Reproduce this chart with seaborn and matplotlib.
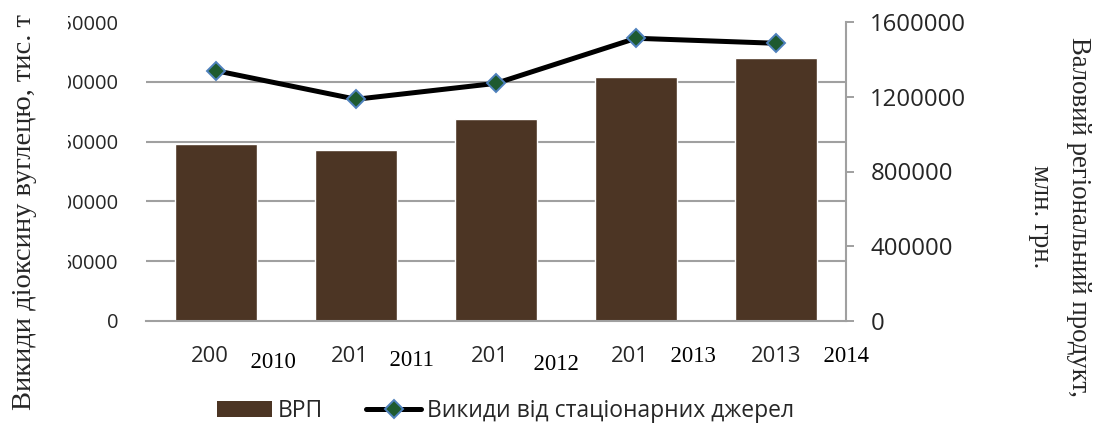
import numpy as np
import pandas as pd
import matplotlib
matplotlib.use("Agg")
import matplotlib.pyplot as plt
import matplotlib.patches as mpatches
from matplotlib.lines import Line2D
from matplotlib.ticker import MultipleLocator
from matplotlib.transforms import Bbox, TransformedBbox
import seaborn as sns

# ---- data ----
categories = ["2009", "2010", "2011", "2012", "2013"]          # original category labels (partly hidden)
overlay_years = ["2010", "2011", "2012", "2013", "2014"]       # overlaid year text boxes
grp_values = [947000, 915000, 1081000, 1306000, 1407000]      # ВРП, млн. грн. (right axis)
emission_values = [209300, 185400, 198700, 236400, 232200]    # Викиди, тис. т (left axis)
left_ticks = [0, 50000, 100000, 150000, 200000, 250000]
right_ticks = [0, 400000, 800000, 1200000, 1600000]

df = pd.DataFrame({"year": categories, "grp": grp_values, "emis": emission_values})

sns.set_style("white")
plt.rcParams["font.family"] = ["Open Sans", "DejaVu Sans"]

BROWN = "#4c3524"
GRID = "#a0a0a0"
GREEN = "#1e5a30"
BLUE = "#4f81bd"
SERIF = ["Liberation Serif", "DejaVu Serif"]

W, H = 1096, 426
fig = plt.figure(figsize=(W / 100, H / 100), dpi=100)
ax = fig.add_axes([146 / W, 105 / H, 700 / W, 299 / H])

# bars on the GRP (right-hand) scale
sns.barplot(data=df, x="year", y="grp", ax=ax, color=BROWN, saturation=1,
            width=0.58, errorbar=None)
ax.set_ylim(0, 1600000)
ax.set_xlim(-0.5, len(categories) - 0.5)
ax.set_xlabel("")
ax.set_ylabel("")

# line on the emissions (left-hand) scale
ax2 = ax.twinx()
sns.pointplot(data=df, x="year", y="emis", ax=ax2, color="black", errorbar=None,
              marker="D", markersize=9, linewidth=3.6,
              markerfacecolor=GREEN, markeredgecolor=BLUE, markeredgewidth=1.4)
ax2.set_ylim(0, 250000)
ax2.set_xlim(-0.5, len(categories) - 0.5)
ax2.yaxis.tick_left()
ax2.set_yticks(left_ticks)
ax2.set_yticklabels([str(v) for v in left_ticks], fontsize=14.5)
ax2.tick_params(axis="y", which="both", length=0, pad=20)
for s in ax2.spines.values():
    s.set_visible(False)
ax2.set_xlabel("")
ax2.set_ylabel("")
ax2.grid(False)

# right-hand axis belongs to the bars
ax.yaxis.tick_right()
ax.set_yticks(right_ticks)
ax.set_yticklabels([str(v) for v in right_ticks], fontsize=17.3)
ax.tick_params(axis="y", which="major", direction="out", length=5.5, width=1.4,
               color=GRID, pad=12, left=False, labelleft=False,
               right=True, labelright=True)
ax.tick_params(axis="x", length=0, pad=18, labelsize=15.8)
ax.yaxis.set_minor_locator(MultipleLocator(320000))
ax.tick_params(axis="y", which="minor", length=0, left=False, right=False)
ax.grid(False)
ax.grid(True, which="minor", axis="y", color=GRID, lw=1.5)
ax.set_axisbelow(True)
for s in ["top", "left"]:
    ax.spines[s].set_visible(False)
for s in ["right", "bottom"]:
    ax.spines[s].set_color(GRID)
    ax.spines[s].set_linewidth(1.5)

# left tick labels are truncated on the left in the original
clip = TransformedBbox(Bbox.from_extents(68 / W, 0, 140 / W, 1), fig.transFigure)
for lbl in ax2.get_yticklabels():
    lbl.set_clip_on(True)
    lbl.set_clip_box(clip)

# overlaid year text boxes (white background, hiding last digit of categories)
ov_x = [273, 412, 556, 693, 846]
ov_y = [362, 361, 365, 357, 357]
NB = "\u00a0" * 2
for t, x, y in zip(overlay_years, ov_x, ov_y):
    fig.text(x / W, 1 - y / H, NB + t + NB, ha="center", va="center", fontsize=16.5,
             family=SERIF, color="black",
             bbox=dict(boxstyle="square,pad=0.5", fc="white", ec="none"))

# axis titles
fig.text(25 / W, 1 - 212 / H, "Викиди діоксину вуглецю, тис. т", rotation=90,
         ha="center", va="center", fontsize=20.5, family=SERIF)
fig.text(1078 / W, 1 - 217 / H, "Валовий регіональний продукт,", rotation=-90,
         ha="center", va="center", fontsize=19.3, family=SERIF)
fig.text(1040 / W, 1 - 217 / H, "млн. грн.", rotation=-90,
         ha="center", va="center", fontsize=19.3, family=SERIF)

# legend
handles = [mpatches.Patch(facecolor=BROWN, edgecolor="none"),
           Line2D([], [], color="black", lw=3.6, marker="D", markersize=9,
                  markerfacecolor=GREEN, markeredgecolor=BLUE, markeredgewidth=1.4)]
fig.legend(handles, ["ВРП", "Викиди від стаціонарних джерел"], ncol=2,
           loc="center left", bbox_to_anchor=(217 / W, 1 - 411 / H),
           frameon=False, fontsize=16.5, handlelength=2.4, handleheight=0.75,
           handletextpad=0.25, columnspacing=1.9, borderpad=0, borderaxespad=0)

fig.savefig("out.png", dpi=100)
